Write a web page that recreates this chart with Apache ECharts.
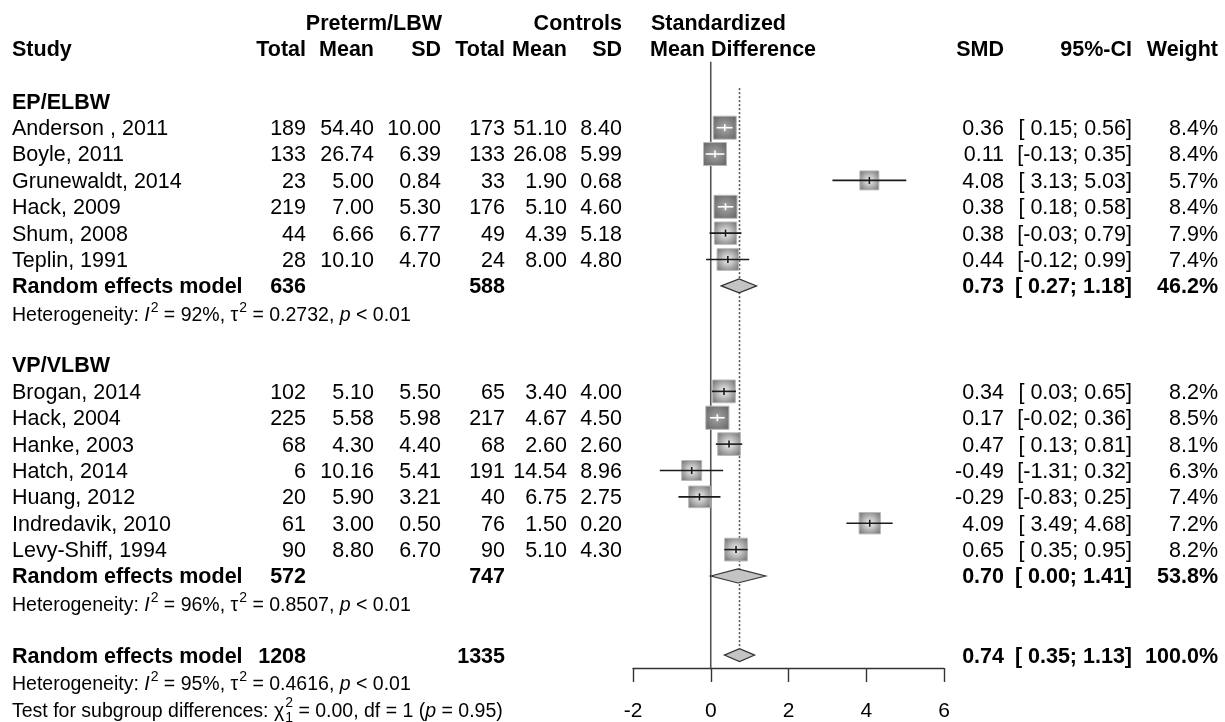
<!DOCTYPE html>
<html><head><meta charset="utf-8">
<script src="https://cdn.jsdelivr.net/npm/echarts@6.0.0/dist/echarts.min.js"></script>
<style>html,body{margin:0;padding:0;background:#fff}#c{width:1225px;height:722px}</style>
</head><body><div id="c"></div>
<script>
// ---------------- DATA ----------------
const groupNames = ["EP/ELBW", "VP/VLBW"];

const epStudy  = ["Anderson , 2011", "Boyle, 2011", "Grunewaldt, 2014", "Hack, 2009", "Shum, 2008", "Teplin, 1991"];
const epTotalE = [189, 133, 23, 219, 44, 28];
const epMeanE  = [54.40, 26.74, 5.00, 7.00, 6.66, 10.10];
const epSdE    = [10.00, 6.39, 0.84, 5.30, 6.77, 4.70];
const epTotalC = [173, 133, 33, 176, 49, 24];
const epMeanC  = [51.10, 26.08, 1.90, 5.10, 4.39, 8.00];
const epSdC    = [8.40, 5.99, 0.68, 4.60, 5.18, 4.80];
const epSMD    = [0.36, 0.11, 4.08, 0.38, 0.38, 0.44];
const epLower  = [0.15, -0.13, 3.13, 0.18, -0.03, -0.12];
const epUpper  = [0.56, 0.35, 5.03, 0.58, 0.79, 0.99];
const epWeight = [8.4, 8.4, 5.7, 8.4, 7.9, 7.4];

const vpStudy  = ["Brogan, 2014", "Hack, 2004", "Hanke, 2003", "Hatch, 2014", "Huang, 2012", "Indredavik, 2010", "Levy-Shiff, 1994"];
const vpTotalE = [102, 225, 68, 6, 20, 61, 90];
const vpMeanE  = [5.10, 5.58, 4.30, 10.16, 5.90, 3.00, 8.80];
const vpSdE    = [5.50, 5.98, 4.40, 5.41, 3.21, 0.50, 6.70];
const vpTotalC = [65, 217, 68, 191, 40, 76, 90];
const vpMeanC  = [3.40, 4.67, 2.60, 14.54, 6.75, 1.50, 5.10];
const vpSdC    = [4.00, 4.50, 2.60, 8.96, 2.75, 0.20, 4.30];
const vpSMD    = [0.34, 0.17, 0.47, -0.49, -0.29, 4.09, 0.65];
const vpLower  = [0.03, -0.02, 0.13, -1.31, -0.83, 3.49, 0.35];
const vpUpper  = [0.65, 0.36, 0.81, 0.32, 0.25, 4.68, 0.95];
const vpWeight = [8.2, 8.5, 8.1, 6.3, 7.4, 7.2, 8.2];

const pooledTotalE = [636, 572];
const pooledTotalC = [588, 747];
const pooledSMD    = [0.73, 0.70];
const pooledLower  = [0.27, 0.00];
const pooledUpper  = [1.18, 1.41];
const pooledWeight = [46.2, 53.8];
const hetI2   = [92, 96];
const hetTau2 = ["0.2732", "0.8507"];
const hetP    = ["< 0.01", "< 0.01"];

const overallTotalE = 1208, overallTotalC = 1335;
const overallSMD = 0.74, overallLower = 0.35, overallUpper = 1.13, overallWeight = 100.0;
const overallI2 = 95, overallTau2 = "0.4616", overallP = "< 0.01";
const testChi2 = "0.00", testDf = 1, testP = "0.95";

const xTicks = [-2, 0, 2, 4, 6];

// ---------------- LAYOUT / STYLE ----------------
const FONT = '"Liberation Sans", Arial, Helvetica, sans-serif';
const MAIN = 21.5, SMALL = 19.5, SUP = 14;
const COL = {
  study: [12, 'left'], totE: [306, 'right'], meanE: [374, 'right'], sdE: [441, 'right'],
  totC: [505, 'right'], meanC: [567, 'right'], sdC: [622, 'right'],
  smd: [1004, 'right'], ci: [1132, 'right'], w: [1218, 'right']
};
const fmt2 = v => v.toFixed(2);
const fmtCI = (l, u) => '[' + (l < 0 ? l.toFixed(2) : ' ' + l.toFixed(2)) + '; ' + u.toFixed(2) + ']';
const fmtW = w => w.toFixed(1) + '%';

// ---------------- BUILD ROWS ----------------
const rows = [];
const studyMarks = [];
const diamondMarks = [];
rows.push({k: -1, bold: true, free: [[442, 'right', 'Preterm/LBW'], [622, 'right', 'Controls'], [651, 'left', 'Standardized']]});
rows.push({k: 0, bold: true, cells: {study: 'Study', totE: 'Total', meanE: 'Mean', sdE: 'SD', totC: 'Total', meanC: 'Mean', sdC: 'SD', smd: 'SMD', ci: '95%-CI', w: 'Weight'},
  free: [[650, 'left', 'Mean Difference']]});

const groups = [
  {name: groupNames[0], study: epStudy, te: epTotalE, me: epMeanE, se: epSdE, tc: epTotalC, mc: epMeanC, sc: epSdC, smd: epSMD, lo: epLower, up: epUpper, w: epWeight},
  {name: groupNames[1], study: vpStudy, te: vpTotalE, me: vpMeanE, se: vpSdE, tc: vpTotalC, mc: vpMeanC, sc: vpSdC, smd: vpSMD, lo: vpLower, up: vpUpper, w: vpWeight}
];
let k = 2;
groups.forEach((g, gi) => {
  rows.push({k: k++, bold: true, cells: {study: g.name}});
  g.study.forEach((s, i) => {
    rows.push({k: k, bold: false, cells: {study: s, totE: String(g.te[i]), meanE: fmt2(g.me[i]), sdE: fmt2(g.se[i]),
      totC: String(g.tc[i]), meanC: fmt2(g.mc[i]), sdC: fmt2(g.sc[i]), smd: fmt2(g.smd[i]), ci: fmtCI(g.lo[i], g.up[i]), w: fmtW(g.w[i])}});
    studyMarks.push([g.smd[i], g.lo[i], g.up[i], g.w[i], k]);
    k++;
  });
  rows.push({k: k, bold: true, cells: {study: 'Random effects model', totE: String(pooledTotalE[gi]), totC: String(pooledTotalC[gi]),
    smd: fmt2(pooledSMD[gi]), ci: fmtCI(pooledLower[gi], pooledUpper[gi]), w: fmtW(pooledWeight[gi])}});
  diamondMarks.push([pooledSMD[gi], pooledLower[gi], pooledUpper[gi], k, 7]);
  k++;
  rows.push({k: k++, segs: [{t: 'Heterogeneity: '}, {t: 'I', it: true}, {sup: '2'}, {t: ' = ' + hetI2[gi] + '%, τ'}, {sup: '2'},
    {t: ' = ' + hetTau2[gi] + ', '}, {t: 'p', it: true}, {t: ' ' + hetP[gi]}]});
  k++; // blank row
});
const overallK = k;
rows.push({k: k, bold: true, cells: {study: 'Random effects model', totE: String(overallTotalE), totC: String(overallTotalC),
  smd: fmt2(overallSMD), ci: fmtCI(overallLower, overallUpper), w: fmtW(overallWeight)}});
diamondMarks.push([overallSMD, overallLower, overallUpper, k, 6.5]);
k++;
rows.push({k: k++, segs: [{t: 'Heterogeneity: '}, {t: 'I', it: true}, {sup: '2'}, {t: ' = ' + overallI2 + '%, τ'}, {sup: '2'},
  {t: ' = ' + overallTau2 + ', '}, {t: 'p', it: true}, {t: ' ' + overallP}]});
rows.push({k: k++, segs: [{t: 'Test for subgroup differences: '}, {t: 'χ'}, {sup: '2', sub: String(testDf)},
  {t: ' = ' + testChi2 + ', df = ' + testDf + ' ('}, {t: 'p', it: true}, {t: ' = ' + testP + ')'}]});

// ---------------- RENDER HELPERS ----------------
const mctx = document.createElement('canvas').getContext('2d');
function measure(t, size, bold, it) {
  mctx.font = (it ? 'italic ' : 'normal ') + (bold ? 'bold ' : 'normal ') + size + 'px ' + FONT;
  return mctx.measureText(t).width;
}
function txt(x, y, t, size, bold, align, it) {
  return {type: 'text', x: x, y: y, silent: true,
    style: {text: t, fontFamily: FONT, fontSize: size, fontWeight: bold ? 'bold' : 'normal', fontStyle: it ? 'italic' : 'normal',
      fill: '#000', align: align, verticalAlign: 'middle'}};
}
const TEXT_DY = 1.5, SEG_DY = 3.5;

function renderRow(params, api) {
  const row = rows[api.value(2)];
  const y = api.coord([0, api.value(1)])[1];
  const ch = [];
  if (row.cells) {
    Object.keys(row.cells).forEach(c => {
      const [x, al] = COL[c];
      ch.push(txt(x, y + TEXT_DY, row.cells[c], MAIN, row.bold, al));
    });
  }
  if (row.free) row.free.forEach(f => ch.push(txt(f[0], y + TEXT_DY, f[2], MAIN, row.bold, f[1])));
  if (row.segs) {
    let x = COL.study[0];
    const yy = y + SEG_DY;
    row.segs.forEach(s => {
      if (s.t !== undefined) {
        ch.push(txt(x, yy, s.t, SMALL, false, 'left', s.it));
        x += measure(s.t, SMALL, false, s.it);
      } else {
        ch.push(txt(x + 1, yy - 8, s.sup, SUP, false, 'left'));
        let wdt = measure(s.sup, SUP, false);
        if (s.sub) {
          ch.push(txt(x + 1, yy + 7, s.sub, SUP, false, 'left'));
          wdt = Math.max(wdt, measure(s.sub, SUP, false));
        }
        x += wdt + 1;
      }
    });
  }
  return {type: 'group', children: ch};
}

function renderStudy(params, api) {
  const est = api.value(0), lo = api.value(1), up = api.value(2), w = api.value(3), kk = api.value(4);
  const c = api.coord([est, kk]), a = api.coord([lo, kk]), b = api.coord([up, kk]);
  const side = 7.94 * Math.sqrt(w);
  const inside = (b[0] - a[0]) < side;
  const grad = inside
    ? {type: 'radial', x: 0.5, y: 0.5, r: 0.6, colorStops: [{offset: 0, color: '#a6a6a6'}, {offset: 1, color: '#6a6a6a'}]}
    : {type: 'radial', x: 0.5, y: 0.5, r: 0.6, colorStops: [{offset: 0, color: '#f4f4f4'}, {offset: 1, color: '#7c7c7c'}]};
  const lc = inside ? '#ffffff' : '#1a1a1a';
  return {type: 'group', children: [
    {type: 'rect', shape: {x: c[0] - side / 2, y: c[1] - side / 2, width: side, height: side}, style: {fill: grad, stroke: '#b8b8b8', lineWidth: 1}},
    {type: 'line', shape: {x1: a[0], y1: c[1], x2: b[0], y2: c[1]}, style: {stroke: lc, lineWidth: 1.6}},
    {type: 'line', shape: {x1: c[0], y1: c[1] - 3.5, x2: c[0], y2: c[1] + 3.5}, style: {stroke: lc, lineWidth: 1.6}}
  ]};
}

function renderDiamond(params, api) {
  const est = api.value(0), lo = api.value(1), up = api.value(2), kk = api.value(3), h = api.value(4);
  const c = api.coord([est, kk]), a = api.coord([lo, kk]), b = api.coord([up, kk]);
  return {type: 'polygon', shape: {points: [[a[0], c[1]], [c[0], c[1] - h], [b[0], c[1]], [c[0], c[1] + h]]},
    style: {fill: '#c4c4c4', stroke: '#333', lineWidth: 1.2}};
}

function renderRefLines(params, api) {
  const z1 = api.coord([0, 0.5]), z2 = api.coord([0, 23.49]);
  const d1 = api.coord([overallSMD, 1.5]), d2 = api.coord([overallSMD, overallK]);
  return {type: 'group', children: [
    {type: 'line', shape: {x1: z1[0], y1: z1[1], x2: z2[0], y2: z2[1]}, style: {stroke: '#555', lineWidth: 1.6}},
    {type: 'line', shape: {x1: d1[0], y1: d1[1], x2: d2[0], y2: d2[1] - 6.5}, style: {stroke: '#555', lineWidth: 1.6, lineDash: [2, 2]}}
  ]};
}

// ---------------- CHART ----------------
const chart = echarts.init(document.getElementById('c'), null, {renderer: 'canvas'});
chart.setOption({
  animation: false,
  backgroundColor: '#fff',
  grid: {left: 633, right: 281, top: 22.2, bottom: 54, containLabel: false, outerBoundsMode: 'none'},
  xAxis: {type: 'value', min: xTicks[0], max: xTicks[xTicks.length - 1], interval: xTicks[1] - xTicks[0],
    axisLine: {show: true, onZero: false, lineStyle: {color: '#333', width: 1.4}},
    axisTick: {show: true, length: 14, lineStyle: {color: '#333', width: 1.4}},
    splitLine: {show: false},
    axisLabel: {fontSize: 21, fontFamily: FONT, color: '#000', margin: 33}},
  yAxis: {type: 'value', inverse: true, min: -1, max: 23.49, show: false},
  series: [
    {type: 'custom', data: [[0, 0]], encode: {x: 0, y: 1}, renderItem: renderRefLines, silent: true, z: 1},
    {type: 'custom', data: studyMarks, encode: {x: 0, y: 4}, renderItem: renderStudy, silent: true, z: 3},
    {type: 'custom', data: diamondMarks, encode: {x: 0, y: 3}, renderItem: renderDiamond, silent: true, z: 3},
    {type: 'custom', data: rows.map((r, i) => [0, r.k, i]), encode: {x: 0, y: 1}, renderItem: renderRow, silent: true, z: 5}
  ]
});
</script>
</body></html>
